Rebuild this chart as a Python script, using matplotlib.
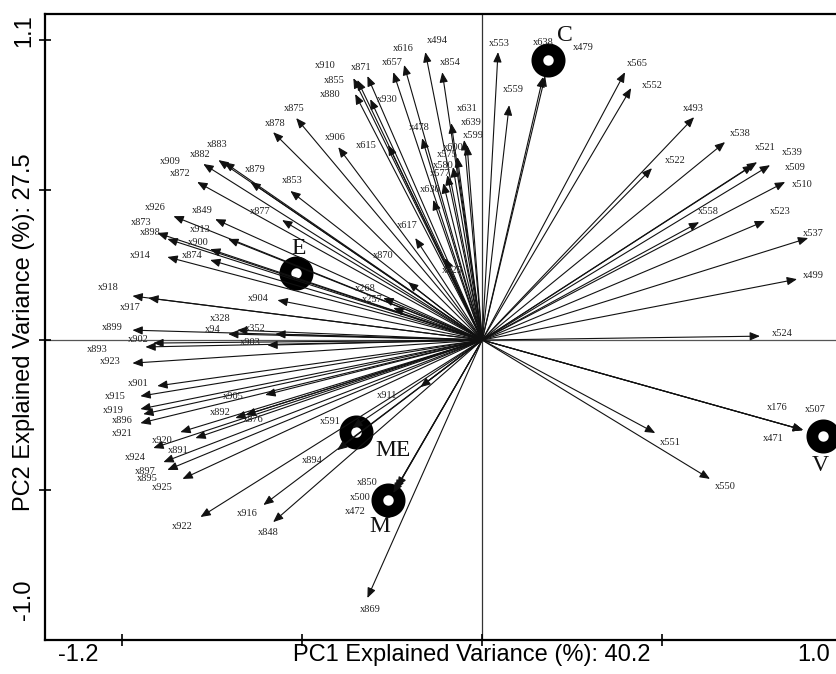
import matplotlib
matplotlib.use("Agg")
import matplotlib.pyplot as plt

# ---- variable loadings (PC1, PC2) ----
var_names = ["x883", "x882", "x909", "x872", "x879", "x878", "x875", "x910", "x871", "x855",
             "x880", "x930", "x657", "x616", "x494", "x854", "x553", "x638", "x479", "x559",
             "x631", "x639", "x599", "x478", "x600", "x575", "x580", "x577", "x630", "x617",
             "x615", "x906", "x853", "x877", "x870", "x625", "x268", "x257",
             "x926", "x849", "x873", "x898", "x913", "x900", "x914", "x874", "x918", "x917",
             "x904", "x899", "x328", "x94", "x352", "x902", "x903", "x893", "x923", "x901",
             "x915", "x919", "x896", "x921", "x905", "x892", "x876", "x920", "x891", "x924",
             "x897", "x895", "x925", "x922", "x916", "x848", "x894", "x911", "x591", "x850",
             "x500", "x472", "x869",
             "x565", "x552", "x493", "x538", "x522", "x521", "x539", "x509", "x510", "x558",
             "x523", "x537", "x499", "x524", "x551", "x550", "x176", "x507", "x471"]
pc1 = [-0.717, -0.733, -0.775, -0.792, -0.644, -0.581, -0.517, -0.358, -0.319, -0.347,
       -0.353, -0.311, -0.247, -0.217, -0.158, -0.111, 0.044, 0.169, 0.175, 0.075,
       -0.086, -0.050, -0.042, -0.167, -0.069, -0.081, -0.097, -0.108, -0.136, -0.186,
       -0.261, -0.400, -0.533, -0.556, -0.206, -0.103, -0.275, -0.247,
       -0.858, -0.742, -0.903, -0.875, -0.706, -0.756, -0.875, -0.756, -0.972, -0.928,
       -0.569, -0.972, -0.681, -0.706, -0.575, -0.914, -0.597, -0.936, -0.972, -0.903,
       -0.950, -0.950, -0.942, -0.950, -0.603, -0.686, -0.658, -0.839, -0.797, -0.914,
       -0.886, -0.875, -0.833, -0.783, -0.608, -0.581, -0.403, -0.172, -0.361, -0.236,
       -0.242, -0.247, -0.319,
       0.397, 0.414, 0.589, 0.675, 0.472, 0.764, 0.800, 0.753, 0.842, 0.603,
       0.786, 0.906, 0.875, 0.772, 0.481, 0.633, 0.892, 0.892, 0.892]
pc2 = [0.593, 0.600, 0.587, 0.527, 0.527, 0.693, 0.740, 0.873, 0.880, 0.867,
       0.820, 0.803, 0.893, 0.917, 0.960, 0.893, 0.960, 0.877, 0.880, 0.783,
       0.723, 0.667, 0.650, 0.673, 0.610, 0.577, 0.550, 0.523, 0.467, 0.340,
       0.650, 0.643, 0.497, 0.400, 0.193, 0.273, 0.140, 0.107,
       0.413, 0.403, 0.357, 0.337, 0.337, 0.303, 0.277, 0.267, 0.147, 0.140,
       0.133, 0.033, 0.033, 0.020, 0.020, -0.010, -0.017, -0.023, -0.077, -0.153,
       -0.187, -0.230, -0.247, -0.277, -0.183, -0.260, -0.250, -0.307, -0.327, -0.360,
       -0.407, -0.433, -0.463, -0.590, -0.550, -0.607, -0.367, -0.157, -0.293, -0.490,
       -0.500, -0.510, -0.860,
       0.893, 0.840, 0.743, 0.660, 0.573, 0.593, 0.583, 0.583, 0.527, 0.393,
       0.397, 0.340, 0.203, 0.013, -0.310, -0.463, -0.300, -0.300, -0.300]

# label offsets from arrow tips (pixels) -- layout only
label_dx = [-7, -18, -33, -17, 5, 2, -2, -28, -6, -23,
            -25, 17, -1, -1, 12, 8, 1, 0, 38, 4,
            16, 7, 6, -3, -4, -6, -4, -3, -3, -8,
            -22, -3, 2, -22, -25, 7, -18, -21,
            -18, -13, -16, -17, -28, -12, -27, -18, -24, -18,
            -19, -20, -17, -15, -20, -15, -17, -48, -22, -19,
            -25, -27, -21, -18, -32, -15, 8, -18, -17, -18,
            -18, -20, -20, -18, -16, -5, -25, -33, -22, -30,
            -35, -38, 3,
            12, 21, -1, 15, 23, 8, 22, 42, 17, 9,
            15, 5, 16, 22, 15, 15, -26, 12, -30]
label_dy = [18, 6, 2, 8, 12, 9, 10, 13, 9, -1,
            0, 0, 10, 16, 12, 10, 9, 34, 29, 16,
            15, 17, 10, 11, 10, 12, 10, 10, 10, 13,
            0, 10, 10, 9, 27, -12, 10, 8,
            9, 9, 10, 6, 9, 7, 1, 4, 8, -9,
            2, 3, 12, 5, 6, 4, 3, -3, 2, 2,
            0, -1, -6, -10, -2, 6, -4, -8, -12, -9,
            -9, -9, -9, -9, -8, -10, -10, -8, 6, 5,
            -7, -18, -11,
            9, 3, 9, 9, 8, 15, 13, -2, -3, 11,
            9, 5, 4, 3, -9, -8, 23, 21, -8]

# ---- group scores ----
group_names = ["C", "E", "ME", "M", "V"]
group_pc1 = [0.183, -0.517, -0.350, -0.261, 0.947]
group_pc2 = [0.933, 0.223, -0.307, -0.533, -0.320]
group_dx = [17, 2, 37, -8, -3]
group_dy = [25, 25, -18, -27, -29]

x_title = "PC1 Explained Variance (%): 40.2"
y_title = "PC2 Explained Variance (%): 27.5"

W, H = 836, 674
fig = plt.figure(figsize=(W / 100, H / 100), dpi=100)
ax = fig.add_axes([45 / W, 34 / H, 797 / W, 626 / H])
ax.set_xlim(-1.215, 1.0)
ax.set_ylim(-1.0, 1.087)

ax.axhline(0, color="#555555", lw=0.9, zorder=1)
ax.axvline(0, color="#333333", lw=0.9, zorder=1)

# group circles (rings)
ax.plot(group_pc1, group_pc2, linestyle="none", marker="o", ms=16, mew=8.5,
        mec="black", mfc="white", zorder=2)
for g, gx, gy, dx, dy in zip(group_names, group_pc1, group_pc2, group_dx, group_dy):
    ax.annotate(g, (gx, gy), xytext=(dx, dy), textcoords="offset pixels",
                ha="center", va="center", fontsize=17, family="Liberation Serif",
                color="#111111", zorder=5)

# loading arrows
for n, vx, vy, dx, dy in zip(var_names, pc1, pc2, label_dx, label_dy):
    ax.annotate("", xy=(vx, vy), xytext=(0, 0),
                arrowprops=dict(arrowstyle="-|>,head_length=0.6,head_width=0.25",
                                color="#111111", lw=0.8, shrinkA=0, shrinkB=0,
                                mutation_scale=10),
                zorder=3)
    ax.annotate(n, (vx, vy), xytext=(dx, dy), textcoords="offset pixels",
                ha="center", va="center", fontsize=7.5, family="Liberation Serif",
                color="#222222", zorder=4)

# spines and ticks
for side in ["top", "left", "bottom"]:
    ax.spines[side].set_linewidth(1.6)
ax.spines["right"].set_visible(False)
ax.set_xticks([-1.0, -0.5, 0.0, 0.5])
ax.set_yticks([-0.5, 0.0, 0.5, 1.0])
ax.tick_params(direction="inout", length=9, width=1.2, labelbottom=False, labelleft=False)

# edge tick labels and titles
sans = "Liberation Sans"
fs = 17
fig.text(78 / W, 1 - 655 / H, "-1.2", ha="center", va="center", fontsize=fs, family=sans)
fig.text(814 / W, 1 - 655 / H, "1.0", ha="center", va="center", fontsize=fs, family=sans)
fig.text(24 / W, 1 - 31 / H, "1.1", ha="center", va="center", fontsize=fs, family=sans, rotation=90)
fig.text(24 / W, 1 - 600 / H, "-1.0", ha="center", va="center", fontsize=fs, family=sans, rotation=90)
fig.text(472 / W, 1 - 655 / H, x_title, ha="center", va="center", fontsize=fs, family=sans)
fig.text(24 / W, 1 - 332 / H, y_title, ha="center", va="center", fontsize=fs, family=sans, rotation=90)

fig.savefig("out.png", dpi=100)
